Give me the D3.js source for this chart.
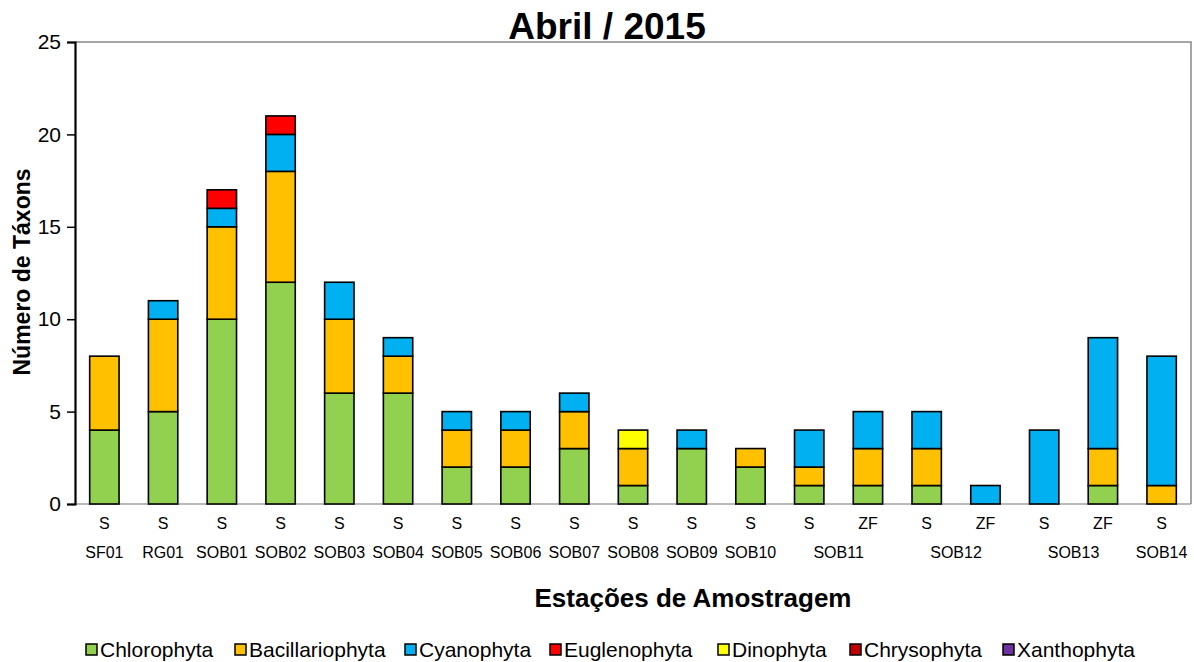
<!DOCTYPE html>
<html>
<head>
<meta charset="utf-8">
<script src="https://cdn.jsdelivr.net/npm/d3@7"></script>
<style>
  body { margin: 0; background: #fff; }
  text { font-family: "Liberation Sans", Arial, sans-serif; fill: #000; }
</style>
</head>
<body>
<div id="chart"></div>
<script>
// stations and sample type for each bar
const stations = ["SF01","RG01","SOB01","SOB02","SOB03","SOB04","SOB05","SOB06","SOB07","SOB08","SOB09","SOB10","SOB11","SOB11","SOB12","SOB12","SOB13","SOB13","SOB14"];
const samples  = ["S","S","S","S","S","S","S","S","S","S","S","S","S","ZF","S","ZF","S","ZF","S"];

const groups = ["Chlorophyta","Bacillariophyta","Cyanophyta","Euglenophyta","Dinophyta","Chrysophyta","Xanthophyta"];
const colors = ["#92d050","#ffc000","#00b0f0","#ff0000","#ffff00","#c00000","#7030a0"];

const chlorophyta     = [4,5,10,12,6,6,2,2,3,1,3,2,1,1,1,0,0,1,0];
const bacillariophyta = [4,5,5,6,4,2,2,2,2,2,0,1,1,2,2,0,0,2,1];
const cyanophyta      = [0,1,1,2,2,1,1,1,1,0,1,0,2,2,2,1,4,6,7];
const euglenophyta    = [0,0,1,1,0,0,0,0,0,0,0,0,0,0,0,0,0,0,0];
const dinophyta       = [0,0,0,0,0,0,0,0,0,1,0,0,0,0,0,0,0,0,0];
const chrysophyta     = [0,0,0,0,0,0,0,0,0,0,0,0,0,0,0,0,0,0,0];
const xanthophyta     = [0,0,0,0,0,0,0,0,0,0,0,0,0,0,0,0,0,0,0];

const yTicks = [0,5,10,15,20,25];

const series = [chlorophyta, bacillariophyta, cyanophyta, euglenophyta, dinophyta, chrysophyta, xanthophyta];

const rows = stations.map((s, i) => {
  const r = { idx: i };
  groups.forEach((g, k) => { r[g] = series[k][i]; });
  return r;
});

const width = 1194;
const height = 662;
const margin = { top: 42, left: 75, right: 3, bottom: 158 };

const svg = d3.select("#chart").append("svg")
  .attr("width", width)
  .attr("height", height);

const x = d3.scaleBand()
  .domain(d3.range(stations.length))
  .range([margin.left, width - margin.right])
  .paddingInner(0.5)
  .paddingOuter(0.25);

const y = d3.scaleLinear()
  .domain([0, 25])
  .range([height - margin.bottom, margin.top]);

const stack = d3.stack().keys(groups)(rows);

// plot frame (top and right in gray)
svg.append("path")
  .attr("d", `M${margin.left},${margin.top}H${width - margin.right}V${y(0)}`)
  .attr("fill", "none")
  .attr("stroke", "#888")
  .attr("stroke-width", 1.5);

svg.append("line")
  .attr("x1", margin.left).attr("x2", width - margin.right)
  .attr("y1", y(0)).attr("y2", y(0))
  .attr("stroke", "#777")
  .attr("stroke-width", 1.2);

// bars
svg.append("g").selectAll("g")
  .data(stack)
  .enter().append("g")
    .attr("fill", (d, i) => colors[i])
  .selectAll("rect")
  .data(d => d.filter(p => p[1] > p[0]))
  .enter().append("rect")
    .attr("x", d => x(d.data.idx))
    .attr("width", x.bandwidth())
    .attr("y", d => y(d[1]))
    .attr("height", d => y(d[0]) - y(d[1]))
    .attr("stroke", "#000")
    .attr("stroke-width", 1.6);

// y axis
const yAxis = svg.append("g")
  .attr("transform", `translate(${margin.left},0)`)
  .call(d3.axisLeft(y).tickValues(yTicks).tickSize(8).tickPadding(6));
yAxis.select(".domain").attr("stroke", "#000").attr("stroke-width", 2.2);
yAxis.selectAll(".tick line").attr("stroke", "#000").attr("stroke-width", 1.5);
yAxis.selectAll(".tick text").style("font-family", "Liberation Sans, Arial, sans-serif").style("font-size", "21px").attr("fill", "#000");

// x labels: sample type row
svg.append("g").selectAll("text")
  .data(samples)
  .enter().append("text")
    .attr("x", (d, i) => x(i) + x.bandwidth() / 2)
    .attr("y", y(0) + 25)
    .attr("text-anchor", "middle")
    .style("font-size", "16px")
    .text(d => d);

// x labels: station row (centered on the bars of each station)
const stationNames = Array.from(new Set(stations));
svg.append("g").selectAll("text")
  .data(stationNames)
  .enter().append("text")
    .attr("x", s => {
      const idx = d3.range(stations.length).filter(i => stations[i] === s);
      return d3.mean(idx, i => x(i) + x.bandwidth() / 2);
    })
    .attr("y", y(0) + 54)
    .attr("text-anchor", "middle")
    .style("font-size", "16px")
    .text(s => s);

// titles
svg.append("text")
  .attr("x", 607)
  .attr("y", 39)
  .attr("text-anchor", "middle")
  .style("font-size", "37px")
  .style("font-weight", "bold")
  .text("Abril / 2015");

svg.append("text")
  .attr("x", 693)
  .attr("y", 607)
  .attr("text-anchor", "middle")
  .style("font-size", "26px")
  .style("font-weight", "bold")
  .text("Estações de Amostragem");

svg.append("text")
  .attr("transform", "translate(30,272) rotate(-90)")
  .attr("text-anchor", "middle")
  .style("font-size", "23px")
  .style("font-weight", "bold")
  .text("Número de Táxons");

// legend
const legendX = [86, 235, 405, 550, 718, 850, 1003];
const legend = svg.append("g").selectAll("g")
  .data(groups)
  .enter().append("g")
    .attr("transform", (d, i) => `translate(${legendX[i]},650)`);

legend.append("rect")
  .attr("x", 0).attr("y", -6)
  .attr("width", 11).attr("height", 11)
  .attr("fill", (d, i) => colors[i])
  .attr("stroke", "#000")
  .attr("stroke-width", 1.5);

legend.append("text")
  .attr("x", 14)
  .attr("y", 7)
  .style("font-size", "21px")
  .text(d => d);
</script>
</body>
</html>
